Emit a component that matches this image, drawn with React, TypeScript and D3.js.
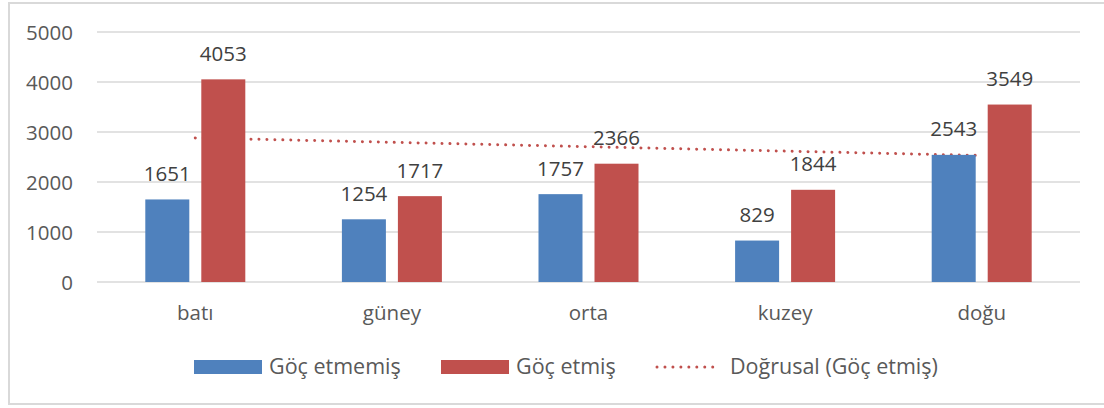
import React from "react";
import * as d3 from "d3";

const categories = ["batı", "güney", "orta", "kuzey", "doğu"];
const seriesNames = ["Göç etmemiş", "Göç etmiş"];
const notMigrated = [1651, 1254, 1757, 829, 2543];
const migrated = [4053, 1717, 2366, 1844, 3549];
const yTicks = [0, 1000, 2000, 3000, 4000, 5000];
const trendLabel = "Doğrusal (Göç etmiş)";

const W = 1104;
const H = 408;
const colors = ["#4F81BD", "#C0504D"];
const FONT = "'Open Sans', 'Noto Sans', sans-serif";

export default function App() {
  const x0 = d3.scaleBand<string>().domain(categories).range([97, 1080]).paddingInner(0).paddingOuter(0);
  const x1 = d3.scaleBand<string>().domain(seriesNames).range([-50, 50]).paddingInner(12 / 56).paddingOuter(0);
  const y = d3.scaleLinear().domain([0, 5000]).range([282, 32]);
  const values = [notMigrated, migrated];

  // linear trendline for migrated series (least squares over category index)
  const n = migrated.length;
  const xs = migrated.map((_, i) => i + 1);
  const mx = d3.mean(xs) as number;
  const my = d3.mean(migrated) as number;
  let num = 0, den = 0;
  xs.forEach((xv, i) => {
    num += (xv - mx) * (migrated[i] - my);
    den += (xv - mx) * (xv - mx);
  });
  const slope = num / den;
  const intercept = my - slope * mx;
  const center = (c: string) => (x0(c) as number) + x0.bandwidth() / 2;
  const trendPts: [number, number][] = categories.map((c, i) => [center(c), y(intercept + slope * (i + 1))]);
  const line = d3.line<[number, number]>().x((d) => d[0]).y((d) => d[1]);
  const trendPath = line([trendPts[0], trendPts[n - 1]]) as string;

  return (
    <svg width={W} height={H} style={{ position: "absolute", left: 0, top: 0, background: "#fff" }} fontFamily={FONT}>
      <rect x={9} y={3} width={1110} height={401} fill="#fff" stroke="#d9d9d9" strokeWidth={2} />
      {yTicks.map((t) => (
        <g key={t}>
          <line x1={97} x2={1080} y1={y(t)} y2={y(t)} stroke="#d9d9d9" strokeWidth={1.5} />
          <text x={73} y={y(t) + 7.5} textAnchor="end" fontSize={20.5} fill="#595959">
            {t}
          </text>
        </g>
      ))}
      <path d={trendPath} fill="none" stroke="#C0504D" strokeWidth={3} strokeLinecap="round" strokeDasharray="0.01 7.95" />
      {categories.map((c, i) => (
        <g key={c}>
          {seriesNames.map((s, si) => {
            const v = values[si][i];
            const bx = center(c) + (x1(s) as number);
            return (
              <g key={s}>
                <rect x={bx} y={y(v)} width={x1.bandwidth()} height={y(0) - y(v)} fill={colors[si]} />
                <text x={bx + x1.bandwidth() / 2} y={y(v) - 18.5} textAnchor="middle" fontSize={20.5} fill="#404040">
                  {v}
                </text>
              </g>
            );
          })}
          <text x={center(c)} y={320} textAnchor="middle" fontSize={20.5} fill="#595959">
            {c}
          </text>
        </g>
      ))}
      <g fontSize={21.5} fill="#595959">
        <rect x={194} y={360} width={68} height={14} fill={colors[0]} />
        <text x={269} y={374}>{seriesNames[0]}</text>
        <rect x={441} y={360} width={68} height={14} fill={colors[1]} />
        <text x={516} y={374}>{seriesNames[1]}</text>
        <line x1={657} x2={720} y1={367} y2={367} stroke="#C0504D" strokeWidth={3} strokeLinecap="round" strokeDasharray="0.01 7.95" />
        <text x={730} y={374}>{trendLabel}</text>
      </g>
    </svg>
  );
}
